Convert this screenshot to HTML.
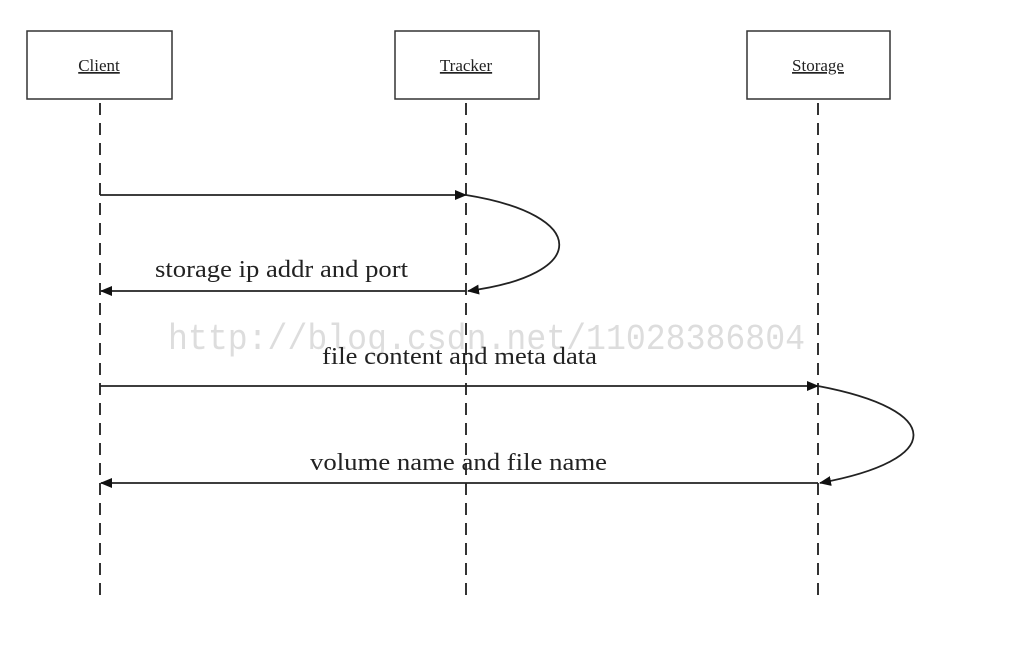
<!DOCTYPE html>
<html><head><style>body{margin:0;background:#fff}</style></head><body>
<svg width="1030" height="644" viewBox="0 0 1030 644" xmlns="http://www.w3.org/2000/svg" font-family="Liberation Serif, serif">
<defs><marker id="a" markerWidth="12" markerHeight="10" refX="11" refY="5" orient="auto" markerUnits="userSpaceOnUse"><path d="M0,0 L12,5 L0,10 z" fill="#111"/></marker></defs>
<g fill="#fff" stroke="#333" stroke-width="1.5">
<rect x="27" y="31" width="145" height="68"/>
<rect x="395" y="31" width="144" height="68"/>
<rect x="747" y="31" width="143" height="68"/>
</g>
<g font-size="17" fill="#222" text-anchor="middle" text-decoration="underline">
<text x="99" y="71">Client</text>
<text x="466" y="71">Tracker</text>
<text x="818" y="71">Storage</text>
</g>
<g stroke="#333" stroke-width="2" stroke-dasharray="12,8">
<line x1="100" y1="103" x2="100" y2="600"/>
<line x1="466" y1="103" x2="466" y2="600"/>
<line x1="818" y1="103" x2="818" y2="600"/>
</g>
<text x="168" y="349" font-size="36" fill="#ddd" font-family="Liberation Mono, monospace" textLength="637" lengthAdjust="spacingAndGlyphs">http://blog.csdn.net/11028386804</text>
<g stroke="#222" stroke-width="1.8" fill="none" marker-end="url(#a)">
<line x1="100" y1="195" x2="466" y2="195"/>
<path d="M466,195 C590,215 590,275 468,291"/>
<line x1="466" y1="291" x2="101" y2="291"/>
<line x1="100" y1="386" x2="818" y2="386"/>
<path d="M818,386 C945,410 945,460 820,483"/>
<line x1="818" y1="483" x2="101" y2="483"/>
</g>
<g font-size="24" fill="#222">
<text x="155" y="277" textLength="253" lengthAdjust="spacingAndGlyphs">storage ip addr and port</text>
<text x="322" y="364" textLength="275" lengthAdjust="spacingAndGlyphs">file content and meta data</text>
<text x="310" y="470" textLength="297" lengthAdjust="spacingAndGlyphs">volume name and file name</text>
</g>
</svg>
</body></html>
